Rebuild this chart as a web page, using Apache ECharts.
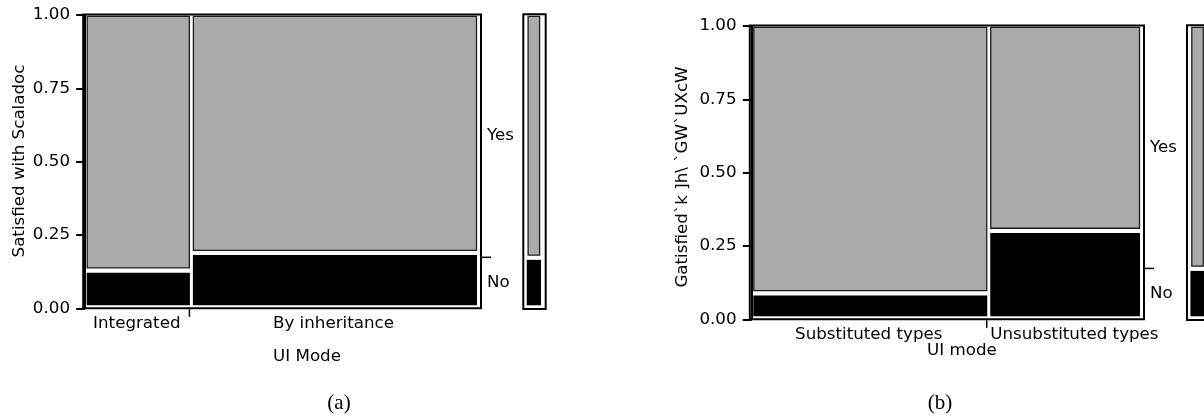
<!DOCTYPE html>
<html><head><meta charset="utf-8">
<script src="https://cdn.jsdelivr.net/npm/echarts@6/dist/echarts.min.js"></script>
<style>html,body{margin:0;padding:0;background:#fff}#c{width:1204px;height:419px}</style>
</head><body><div id="c"></div>
<script>
// ---- data ----
const catsA = ['Integrated', 'By inheritance'];
const widthsA = [0.27, 0.73];     // share of respondents per UI mode
const noA = [0.13, 0.19];         // share answering "No" in each mode
const catsB = ['Substituted types', 'Unsubstituted types'];
const widthsB = [0.608, 0.392];
const noB = [0.09, 0.303];
const levels = ['Yes', 'No'];
const yTicks = [0, 0.25, 0.5, 0.75, 1];
const yTitleA = 'Satisfied with Scaladoc';
const yTitleB = 'Gatisfied`k ]h\\ `GW`UXcW';
const xTitleA = 'UI Mode';
const xTitleB = 'UI mode';
const subA = '(a)';
const subB = '(b)';

// ---- derived ----
function marginal(w, n) { let s = 0; for (let i = 0; i < w.length; i++) s += w[i] * n[i]; return s; }
function cellData(w, n) {
  const out = []; let x = 0;
  for (let i = 0; i < w.length; i++) {
    out.push([x, x + w[i], 0, n[i], 1]);
    out.push([x, x + w[i], n[i], 1, 0]);
    x += w[i];
  }
  return out;
}
const margA = marginal(widthsA, noA);
const margB = marginal(widthsB, noB);

const FS = 16.7;
const FONT = FS + 'px "DejaVu Sans"';
const TXT = '#000';
const GRAY = '#aaaaaa';
const measureCtx = document.createElement('canvas').getContext('2d');
measureCtx.font = FONT;

function makeCellRender(hInsetBlack, hInsetGray) {
  return function (params, api) {
    const x0 = api.value(0), x1 = api.value(1), y0 = api.value(2), y1 = api.value(3), lvl = api.value(4);
    const a = api.coord([x0, y0]), b = api.coord([x1, y1]);
    const hi = lvl === 1 ? hInsetBlack : hInsetGray;
    const left = a[0] + hi, right = b[0] - hi;
    const bottom = a[1] - (y0 === 0 ? 3 : 2.2);
    const top = b[1] + (y1 === 1 ? 1.4 : 2.5);
    return {
      type: 'rect',
      shape: { x: left, y: top, width: right - left, height: bottom - top },
      style: lvl === 1 ? { fill: '#000' } : { fill: GRAY, stroke: '#1e1e1e', lineWidth: 1.3 }
    };
  };
}

function txt(x, y, s, align, rot) {
  return { type: 'text', x: x, y: y, rotation: rot || 0,
    style: { text: s, font: FONT, fill: TXT, align: align || 'center', verticalAlign: 'middle',
             textAlign: align || 'center', textVerticalAlign: 'middle' } };
}
function line(x1, y1, x2, y2, w) {
  return { type: 'line', shape: { x1: x1, y1: y1, x2: x2, y2: y2 }, style: { stroke: '#000', lineWidth: w || 1.5 } };
}

function makeDecoRender(cats, widths, marg) {
  return function (params, api) {
    const p00 = api.coord([0, 0]), p11 = api.coord([1, 1]);
    const fl = p00[0] - 2, fr = p11[0] + 2.5, ft = p11[1] - 0.5, fb = p00[1];
    const ch = [];
    ch.push({ type: 'rect', shape: { x: fl, y: ft, width: fr - fl, height: fb - ft },
      style: { fill: 'none', stroke: '#000', lineWidth: 2 } });
    // marginal tick and level labels
    const ym = api.coord([1, marg])[1];
    ch.push(line(fr, ym, fr + 10, ym, 1.5));
    ch.push(txt(fr + 6, api.coord([1, (marg + 1) / 2])[1], levels[0], 'left'));
    ch.push(txt(fr + 6, api.coord([1, marg / 2])[1], levels[1], 'left'));
    // category boundary ticks and labels
    let x = 0;
    for (let i = 0; i < cats.length; i++) {
      const xa = api.coord([x, 0])[0], xb = api.coord([x + widths[i], 0])[0];
      const tw = measureCtx.measureText(cats[i]).width;
      if (tw > xb - xa - 4) ch.push(txt(xa + 1.5, fb + 15, cats[i], 'left'));
      else ch.push(txt((xa + xb) / 2 - 1.5, fb + 15, cats[i], 'center'));
      if (i < cats.length - 1) ch.push(line(xb - 2, fb + 1, xb - 2, fb + 8.5, 1.5));
      x += widths[i];
    }
    return { type: 'group', children: ch };
  };
}

function spineFrameRender(params, api) {
  const p00 = api.coord([0, 0]), p11 = api.coord([1, 1]);
  const fl = p00[0] - 3.4, fr = p11[0] + 4.7, ft = p11[1] - 0.7, fb = p00[1] + 0.8;
  return { type: 'rect', shape: { x: fl, y: ft, width: fr - fl, height: fb - ft },
    style: { fill: 'none', stroke: '#000', lineWidth: 2 } };
}

const grids = [
  { left: 85.2, top: 15, width: 393.3, height: 293.3 },
  { left: 526.7, top: 15, width: 14.3, height: 293.3 },
  { left: 751.8, top: 26, width: 389.7, height: 293.3 },
  { left: 1190.4, top: 26, width: 14.3, height: 293.3 }
].map(g => Object.assign({ containLabel: false, outerBoundsMode: 'none' }, g));

function yAxisMain(gi) {
  return {
    gridIndex: gi, type: 'value', min: yTicks[0], max: yTicks[yTicks.length - 1],
    interval: yTicks[1] - yTicks[0], offset: 2.2,
    axisLine: { show: true, lineStyle: { color: '#000', width: 2 } },
    axisTick: { show: true, length: 9, lineStyle: { color: '#000', width: 2 } },
    axisLabel: { formatter: v => v.toFixed(2), fontSize: FS, fontFamily: 'DejaVu Sans', color: TXT, margin: 13 },
    splitLine: { show: false }
  };
}
function hiddenY(gi) { return { gridIndex: gi, type: 'value', min: 0, max: 1, show: false, splitLine: { show: false } }; }
function hiddenX(gi) { return { gridIndex: gi, type: 'value', min: 0, max: 1, show: false, splitLine: { show: false } }; }

const common = { type: 'custom', coordinateSystem: 'cartesian2d', clip: false, silent: true, animation: false };

const option = {
  animation: false,
  grid: grids,
  xAxis: [hiddenX(0), hiddenX(1), hiddenX(2), hiddenX(3)],
  yAxis: [yAxisMain(0), hiddenY(1), yAxisMain(2), hiddenY(3)],
  series: [
    Object.assign({}, common, { xAxisIndex: 0, yAxisIndex: 0, data: cellData(widthsA, noA), renderItem: makeCellRender(1.5, 2) }),
    Object.assign({}, common, { xAxisIndex: 0, yAxisIndex: 0, data: [[0]], renderItem: makeDecoRender(catsA, widthsA, margA) }),
    Object.assign({}, common, { xAxisIndex: 1, yAxisIndex: 1, data: cellData([1], [margA]), renderItem: makeCellRender(0, 1.4) }),
    Object.assign({}, common, { xAxisIndex: 1, yAxisIndex: 1, data: [[0]], renderItem: spineFrameRender }),
    Object.assign({}, common, { xAxisIndex: 2, yAxisIndex: 2, data: cellData(widthsB, noB), renderItem: makeCellRender(1.5, 2) }),
    Object.assign({}, common, { xAxisIndex: 2, yAxisIndex: 2, data: [[0]], renderItem: makeDecoRender(catsB, widthsB, margB) }),
    Object.assign({}, common, { xAxisIndex: 3, yAxisIndex: 3, data: cellData([1], [margB]), renderItem: makeCellRender(0, 1.4) }),
    Object.assign({}, common, { xAxisIndex: 3, yAxisIndex: 3, data: [[0]], renderItem: spineFrameRender })
  ],
  graphic: [
    txt(20, 161, yTitleA, 'center', Math.PI / 2),
    txt(683, 177, yTitleB, 'center', Math.PI / 2),
    txt(307, 356.5, xTitleA, 'center'),
    txt(962, 351, xTitleB, 'center'),
    { type: 'text', x: 339, y: 403, style: { text: subA, font: '21px "Liberation Serif"', fill: '#000', align: 'center', verticalAlign: 'middle', textAlign: 'center', textVerticalAlign: 'middle' } },
    { type: 'text', x: 940, y: 403, style: { text: subB, font: '21px "Liberation Serif"', fill: '#000', align: 'center', verticalAlign: 'middle', textAlign: 'center', textVerticalAlign: 'middle' } }
  ]
};

const chart = echarts.init(document.getElementById('c'), null, { renderer: 'canvas' });
chart.setOption(option);
</script>
</body></html>
